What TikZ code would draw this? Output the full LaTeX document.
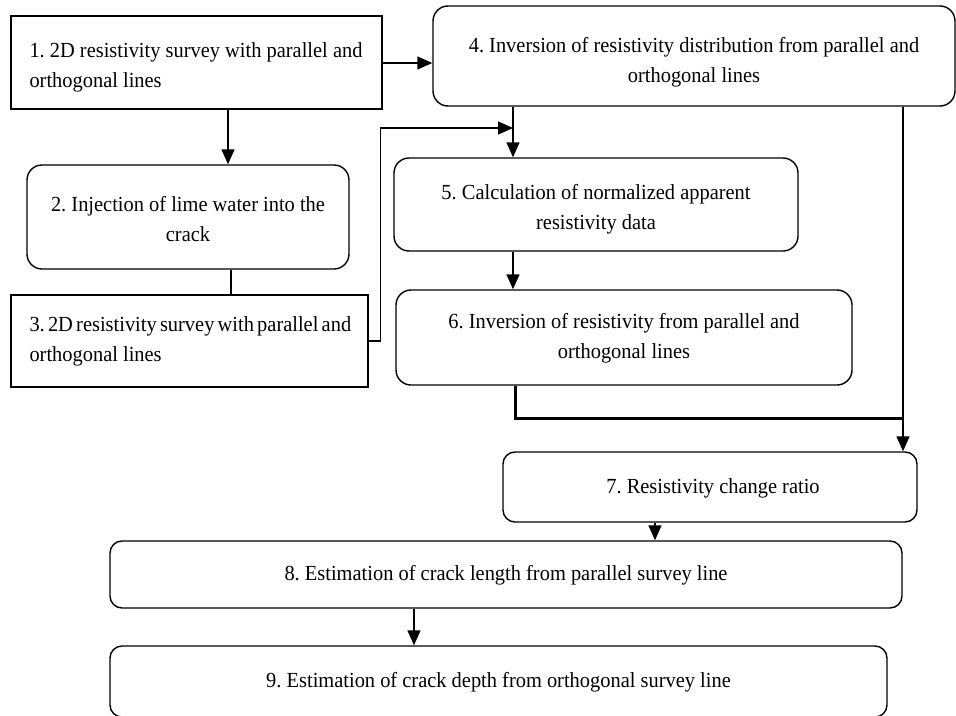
\documentclass[tikz,border=0pt]{standalone}
\usepackage{fontspec}
\setmainfont[FakeStretch=0.95]{Liberation Serif}
\usetikzlibrary{arrows.meta}
\begin{document}
\begin{tikzpicture}[x=1pt,y=-1pt,
  sq/.style={draw, line width=1.4pt, inner sep=0pt},
  rbox/.style={sq, rounded corners=15pt},
  txt/.style={inner sep=0pt, font=\fontsize{21.5}{30}\selectfont\frenchspacing},
  ltxt/.style={txt, align=left, anchor=west},
  ctxt/.style={txt, align=center},
  arr/.style={line width=1.4pt, -{Triangle[length=15pt,width=13pt]}},
  ln/.style={line width=1.4pt},
  thk/.style={line width=3pt}]
\useasboundingbox (0,0) rectangle (956,715);
\clip (0,0) rectangle (956,715);
\fill[white] (0,0) rectangle (956,715);

% boxes
\node[sq, minimum width=371pt, minimum height=93pt] (n1) at (196.5,62.5) {};
\node[rbox, minimum width=322pt, minimum height=104pt] (n2) at (188,217) {};
\node[sq, minimum width=357pt, minimum height=92pt] (n3) at (189.5,341) {};
\node[rbox, minimum width=522pt, minimum height=100pt] (n4) at (694,56) {};
\node[rbox, minimum width=404pt, minimum height=93pt] (n5) at (596,204.5) {};
\node[rbox, minimum width=456pt, minimum height=95pt] (n6) at (624,337.5) {};
\node[rbox, rounded corners=12pt, minimum width=414pt, minimum height=70pt] (n7) at (710,487) {};
\node[rbox, rounded corners=12pt, minimum width=792pt, minimum height=67pt] (n8) at (506,574.5) {};
\node[rbox, rounded corners=12pt, minimum width=777pt, minimum height=71pt] (n9) at (498.5,681.5) {};

% texts
\node[ltxt] (t1) at ([xshift=19pt,yshift=-5pt]n1.west)
  {1. 2D resistivity survey with parallel and\\orthogonal lines};
\node[ctxt] (t2) at ([yshift=-2pt]n2.center)
  {2. Injection of lime water into the\\crack};
\node[ltxt] (t3) at ([xshift=19pt,yshift=0pt]n3.west)
  {\spaceskip=0.15em 3. 2D resistivity survey with parallel and\\orthogonal lines};
\node[ctxt] (t4) at ([yshift=-6pt]n4.center)
  {4. Inversion of resistivity distribution from parallel and\\orthogonal lines};
\node[ctxt] (t5) at ([yshift=-5pt]n5.center)
  {5. Calculation of normalized apparent\\resistivity data};
\node[ctxt] (t6) at ([yshift=-1pt]n6.center)
  {6. Inversion of resistivity from parallel and\\orthogonal lines};
\node[ctxt] (t7) at ([xshift=3pt,yshift=-1pt]n7.center) {7. Resistivity change ratio};
\node[ctxt] (t8) at ([yshift=-1pt]n8.center) {8. Estimation of crack length from parallel survey line};
\node[ctxt] (t9) at ([yshift=-1pt]n9.center) {9. Estimation of crack depth from orthogonal survey line};

% connectors
\coordinate (c12) at (228,0);
\coordinate (c23) at (231,0);
\coordinate (j) at (513,128);
\coordinate (c6) at (515,418);
\coordinate (c47) at (903,0);
\coordinate (c78) at (655,0);
\coordinate (c89) at (414,0);

\draw[arr] (0,63 -| n1.east) -- (0,63 -| n4.west);
\draw[arr] (n1.south -| c12) -- (n2.north -| c12);
\draw[ln] (n2.south -| c23) -- (n3.north -| c23);
\draw[arr] (n3.east) -- ++(12,0) |- (j);
\draw[arr] (n4.south -| j) -- (n5.north -| j);
\draw[arr] (n5.south -| j) -- (n6.north -| j);
\draw[thk] (n6.south -| c6) -- (c6) -- (c6 -| c47);
\draw[arr] (n4.south -| c47) -- (n7.north -| c47);
\draw[arr] (n7.south -| c78) -- (n8.north -| c78);
\draw[arr] (n8.south -| c89) -- (n9.north -| c89);
\end{tikzpicture}
\end{document}
